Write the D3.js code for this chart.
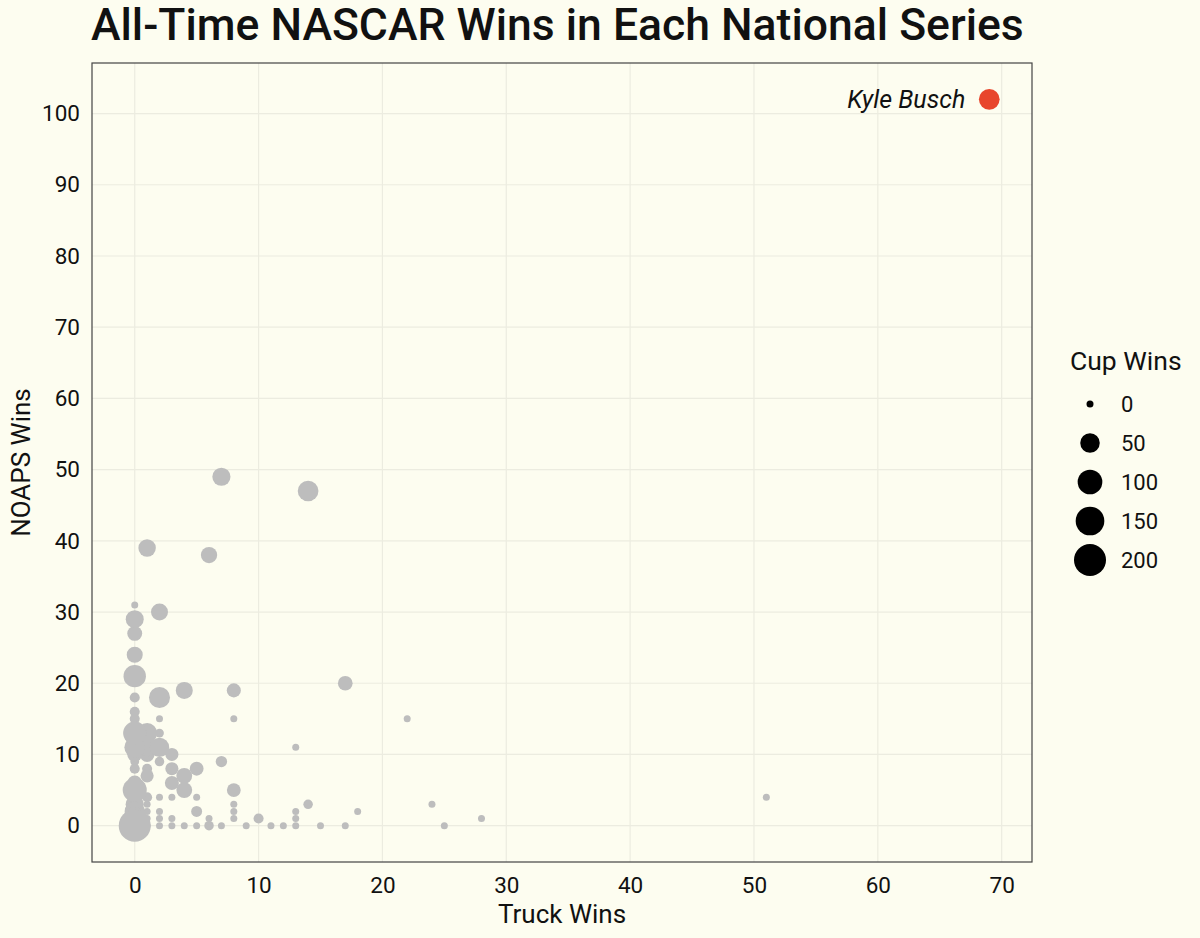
<!DOCTYPE html>
<html>
<head>
<meta charset="utf-8">
<script src="https://cdn.jsdelivr.net/npm/d3@7/dist/d3.min.js"></script>
<style>
  html, body { margin: 0; padding: 0; background: #FDFDF0; }
  svg { display: block; font-family: Roboto, "Noto Sans", sans-serif; }
</style>
</head>
<body>
<svg id="chart" width="1200" height="938"></svg>
<script>
// ---- data: [truck wins, NOAPS wins, cup wins] ----
const drivers = [
  "Mark Martin","Kevin Harvick","Brad Keselowski","Carl Edwards","d5","Matt Kenseth","Joey Logano","d8","d9",
  "Dale Earnhardt","d11","d12","d13","d14","Greg Biffle","d16","d17","d18","d19","Todd Bodine",
  "Darrell Waltrip","d22","d23","d24","d25","d26","d27","d28","d29","d30","d31","d32","d33","d34","d35",
  "d36","d37","d38","Jeff Gordon","d40","d41","d42","d43","d44","d45","d46","d47","Jimmie Johnson",
  "Richard Petty","d50","d51","d52","d53","d54","d55","d56","d57","d58","d59","d60","d61","d62","d63",
  "d64","d65","d66","d67","d68","d69","d70","d71","d72","d73","d74","d75","d76","d77","d78","d79","d80",
  "d81","d82","d83","d84","d85","d86","Ron Hornaday"
];
const truckWins = [
  7,14,1,6,0,0,2,0,0,
  0,0,2,4,8,17,0,0,2,8,22,
  0,1,2,0,1,2,1,3,13,0,2,7,0,1,1,3,5,4,
  0,3,4,8,1,2,3,5,0,0,
  0,0,0,0,1,1,1,1,2,2,2,3,3,4,5,5,6,
  6,7,8,8,8,9,10,11,12,13,13,13,14,15,17,18,24,
  25,28,0,0,0,0,51
];
const noapsWins = [
  49,47,39,38,31,29,30,27,24,
  21,18,18,19,19,20,16,15,15,15,15,
  13,13,13,11,11,11,10,10,11,9,9,9,8,8,7,8,8,7,
  5,6,5,5,4,4,4,4,3,1,
  0,2,0,0,3,2,1,0,2,1,0,1,0,0,2,0,1,
  0,0,3,2,1,0,1,0,0,2,1,0,3,0,0,2,3,
  0,1,4,6,12,10,4
];
const cupWins = [
  40,60,35,28,0,39,32,20,26,
  76,3,63,32,16,19,3,3,0,0,0,
  84,55,1,60,40,49,20,12,0,1,2,6,3,3,12,12,15,25,
  93,16,25,15,3,0,0,0,40,83,
  200,55,105,83,0,0,0,0,0,0,0,0,0,0,5,0,0,
  2,0,0,0,0,0,3,0,0,0,0,0,2,0,0,0,0,
  0,0,20,20,30,20,0
];
const highlight = { name: "Kyle Busch", truck: 69, noaps: 102, cup: 60 };

const xTicks = [0, 10, 20, 30, 40, 50, 60, 70];
const yTicks = [0, 10, 20, 30, 40, 50, 60, 70, 80, 90, 100];
const legendValues = [0, 50, 100, 150, 200];

// ---- layout ----
const svg = d3.select("#chart");
const W = 1200, H = 938;
const panel = { left: 92, top: 63, right: 1032, bottom: 862 };

svg.append("rect").attr("width", W).attr("height", H).attr("fill", "#FDFDF0");

const x = d3.scaleLinear().domain([-3.45, 72.45]).range([panel.left, panel.right]);
const y = d3.scaleLinear().domain([-5.1, 107.1]).range([panel.bottom, panel.top]);
const size = v => 3.5 + 12.5 * Math.sqrt(v / 200);

// grid
const g = svg.append("g");
g.selectAll("line.gx").data(xTicks).join("line")
  .attr("x1", d => x(d)).attr("x2", d => x(d))
  .attr("y1", panel.top).attr("y2", panel.bottom)
  .attr("stroke", "#ECECE0").attr("stroke-width", 1.2);
g.selectAll("line.gy").data(yTicks).join("line")
  .attr("y1", d => y(d)).attr("y2", d => y(d))
  .attr("x1", panel.left).attr("x2", panel.right)
  .attr("stroke", "#ECECE0").attr("stroke-width", 1.2);

// points
const pts = truckWins.map((t, i) => ({ name: drivers[i], t, n: noapsWins[i], c: cupWins[i] }));
pts.sort((a, b) => a.c - b.c);
g.selectAll("circle.p").data(pts).join("circle")
  .attr("cx", d => x(d.t)).attr("cy", d => y(d.n)).attr("r", d => size(d.c))
  .attr("fill", "#BDBDBD");

g.append("circle")
  .attr("cx", x(highlight.truck)).attr("cy", y(highlight.noaps)).attr("r", size(highlight.cup))
  .attr("fill", "#E8452C");
g.append("text")
  .attr("x", x(highlight.truck) - 24).attr("y", y(highlight.noaps) + 9)
  .attr("text-anchor", "end").attr("font-style", "italic").attr("font-size", 25)
  .attr("fill", "#111").text(highlight.name);

// panel border
svg.append("rect")
  .attr("x", panel.left).attr("y", panel.top)
  .attr("width", panel.right - panel.left).attr("height", panel.bottom - panel.top)
  .attr("fill", "none").attr("stroke", "#444").attr("stroke-width", 1.2);

// axes
const xAxis = d3.axisBottom(x).tickValues(xTicks).tickSize(0).tickPadding(15);
const yAxis = d3.axisLeft(y).tickValues(yTicks).tickSize(0).tickPadding(12);
const xa = svg.append("g").attr("transform", `translate(0,${panel.bottom})`).call(xAxis);
const ya = svg.append("g").attr("transform", `translate(${panel.left},0)`).call(yAxis);
[xa, ya].forEach(a => {
  a.select(".domain").remove();
  a.selectAll("text").attr("font-size", 22.5).attr("fill", "#111")
    .attr("font-family", "Roboto, sans-serif");
});

svg.append("text").attr("x", (panel.left + panel.right) / 2).attr("y", 923)
  .attr("text-anchor", "middle").attr("font-size", 26).attr("fill", "#111").text("Truck Wins");
svg.append("text").attr("transform", `translate(30,${(panel.top + panel.bottom) / 2}) rotate(-90)`)
  .attr("text-anchor", "middle").attr("font-size", 26).attr("fill", "#111").text("NOAPS Wins");

// title
svg.append("text").attr("x", 91).attr("y", 40)
  .attr("font-size", 44.5).attr("font-weight", 500).attr("fill", "#111")
  .text("All-Time NASCAR Wins in Each National Series");

// legend
const lg = svg.append("g");
lg.append("text").attr("x", 1070).attr("y", 370).attr("font-size", 26.5).attr("fill", "#111").text("Cup Wins");
const ly = d3.scalePoint().domain(legendValues).range([404, 560]);
lg.selectAll("circle").data(legendValues).join("circle")
  .attr("cx", 1090).attr("cy", d => ly(d)).attr("r", d => size(d)).attr("fill", "#000");
lg.selectAll("text.l").data(legendValues).join("text")
  .attr("x", 1121).attr("y", d => ly(d) + 8).attr("font-size", 22).attr("fill", "#111").text(d => d);
</script>
</body>
</html>
